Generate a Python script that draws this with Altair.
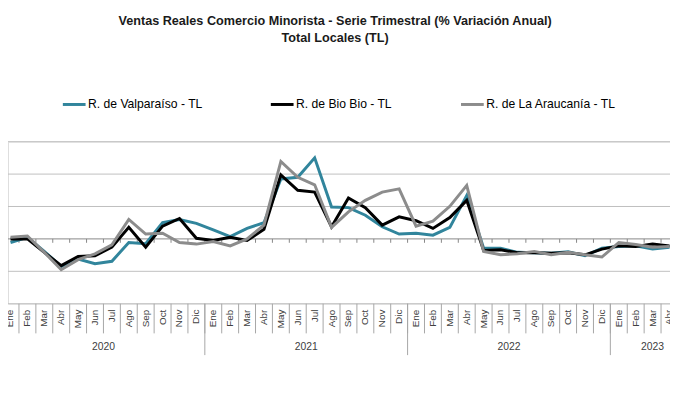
import altair as alt
import pandas as pd

# ---------------- data ----------------
months = ["Ene", "Feb", "Mar", "Abr", "May", "Jun", "Jul", "Ago", "Sep", "Oct", "Nov", "Dic"]
years = ["2020", "2021", "2022", "2023"]
year_months = [12, 12, 12, 5]  # 2023 continues past the visible (cropped) edge

series = ["R. de Valparaíso - TL", "R. de Bio Bio - TL", "R. de La Araucanía - TL"]
colors = ["#31859C", "#000000", "#8C8C8C"]

valparaiso = [-2.2, 1.0, -7.7, -17.0, -12.4, -15.3, -13.8, -2.2, -3.0, 10.0, 12.0, 9.6,
              5.5, 1.4, 6.5, 10.0, 37.0, 38.0, 50.0, 19.7, 19.3, 14.6, 7.5, 3.0,
              3.5, 2.3, 7.1, 26.8, -5.7, -5.7, -8.3, -8.5, -8.8, -8.0, -10.4, -5.7,
              -4.7, -4.3, -6.3, -5.1]
biobio = [0.0, 0.0, -8.3, -16.5, -10.8, -10.4, -5.1, 7.1, -5.1, 7.9, 12.6, 0.4,
          -1.0, 1.0, -1.0, 5.9, 39.5, 30.0, 28.9, 7.5, 25.2, 19.3, 8.5, 13.6,
          11.2, 6.5, 13.2, 23.8, -7.1, -6.7, -8.5, -8.5, -8.8, -8.5, -9.8, -6.3,
          -4.3, -4.7, -3.2, -4.3]
araucania = [1.0, 1.8, -8.3, -19.0, -12.8, -9.2, -3.7, 12.0, 3.0, 3.5, -2.2, -3.2,
             -1.6, -4.3, 0.0, 8.5, 47.8, 38.0, 33.4, 7.1, 16.7, 23.8, 28.9, 30.9,
             7.9, 11.0, 20.1, 33.0, -7.7, -9.8, -9.2, -7.7, -9.8, -8.3, -9.8, -11.2,
             -2.2, -3.5, -5.1, -4.7]

grid_values = [-40, -20, 20, 40, 60]

# ---------------- tables ----------------
n = len(valparaiso)
labels = [months[i % 12] for i in range(n)]
rows = []
for s, vals in zip(series, [valparaiso, biobio, araucania]):
    for i, v in enumerate(vals):
        rows.append({"serie": s, "i": i, "mes": labels[i], "valor": v})
df = pd.DataFrame(rows)

month_df = pd.DataFrame({"i": list(range(n)), "mes": labels})
bounds_df = pd.DataFrame({"b": [i - 0.5 for i in range(n + 1)]})
starts = [sum(year_months[:k]) for k in range(len(years))]
year_df = pd.DataFrame({"anio": years,
                        "c": [s + (m - 1) / 2 for s, m in zip(starts, year_months)]})
year_bounds = pd.DataFrame({"b": [s - 0.5 for s in starts]})
grid_df = pd.DataFrame({"g": grid_values})
zero_df = pd.DataFrame({"g": [0]})

FONT = "Liberation Sans"
X = alt.Scale(domain=[-0.149, 39.03], nice=False, zero=False)
Y = alt.Scale(domain=[-40, 60], nice=False, zero=False)
H = 164

grid = alt.Chart(grid_df).mark_rule(color="#BFBFBF", strokeWidth=1).encode(
    y=alt.Y("g:Q", scale=Y, axis=None))

zero = alt.Chart(zero_df).mark_rule(color="#868686", strokeWidth=1).encode(
    y=alt.Y("g:Q", scale=Y, axis=None))

zero_ticks = alt.Chart(bounds_df).mark_rule(color="#868686", strokeWidth=1).encode(
    x=alt.X("b:Q", scale=X, axis=None),
    y=alt.datum(0),
    y2=alt.datum(-2.4))

month_sep = alt.Chart(bounds_df).mark_rule(color="#A6A6A6", strokeWidth=1).encode(
    x=alt.X("b:Q", scale=X, axis=None),
    y=alt.value(H), y2=alt.value(H + 30))

year_sep = alt.Chart(year_bounds).mark_rule(color="#A6A6A6", strokeWidth=1).encode(
    x=alt.X("b:Q", scale=X, axis=None),
    y=alt.value(H), y2=alt.value(H + 52))

month_text = alt.Chart(month_df).mark_text(
    angle=270, align="right", baseline="middle", fontSize=10, font=FONT, color="#404040"
).encode(x=alt.X("i:Q", scale=X, axis=None), y=alt.value(H + 6), text="mes:N")

year_text = alt.Chart(year_df).mark_text(
    align="center", baseline="middle", fontSize=10.5, font=FONT, color="#404040"
).encode(x=alt.X("c:Q", scale=X, axis=None), y=alt.value(H + 44), text="anio:N")

color = alt.Color("serie:N",
                  scale=alt.Scale(domain=series, range=colors),
                  legend=alt.Legend(title=None, orient="none", legendX=54, legendY=-51,
                                    direction="horizontal", columns=3,
                                    symbolType="stroke", symbolSize=529,
                                    symbolStrokeWidth=3, labelOffset=1,
                                    labelFont=FONT, labelFontSize=12.3, labelColor="#000000",
                                    columnPadding=62.5))

line_layers = []
for k, s in enumerate(series):
    yaxis = alt.Axis(labels=False, ticks=False, grid=False, domain=True,
                     domainColor="#A6A6A6", title=None) if k == 0 else None
    line_layers.append(
        alt.Chart(df).transform_filter(alt.datum.serie == s).mark_line(strokeWidth=3).encode(
            x=alt.X("i:Q", scale=X, axis=None),
            y=alt.Y("valor:Q", scale=Y, axis=yaxis),
            color=color,
        ))

chart = alt.layer(grid, zero, zero_ticks, month_sep, year_sep, month_text, year_text,
                  *line_layers).properties(
    width=670, height=H,
    title=alt.TitleParams(
        text=["Ventas Reales Comercio Minorista - Serie Trimestral (% Variación Anual)",
              "Total Locales (TL)"],
        anchor="middle", frame="group", fontSize=12.8, font=FONT, fontWeight="bold",
        color="#1A1A1A", lineHeight=17, offset=47, dx=-4),
    autosize=alt.AutoSizeParams(type="none"),
    padding={"left": 0, "top": 133, "right": 0, "bottom": 83},
).configure_view(stroke=None).configure(background="white")

chart.save("out.html", embed_options={"renderer": "svg", "actions": False})
